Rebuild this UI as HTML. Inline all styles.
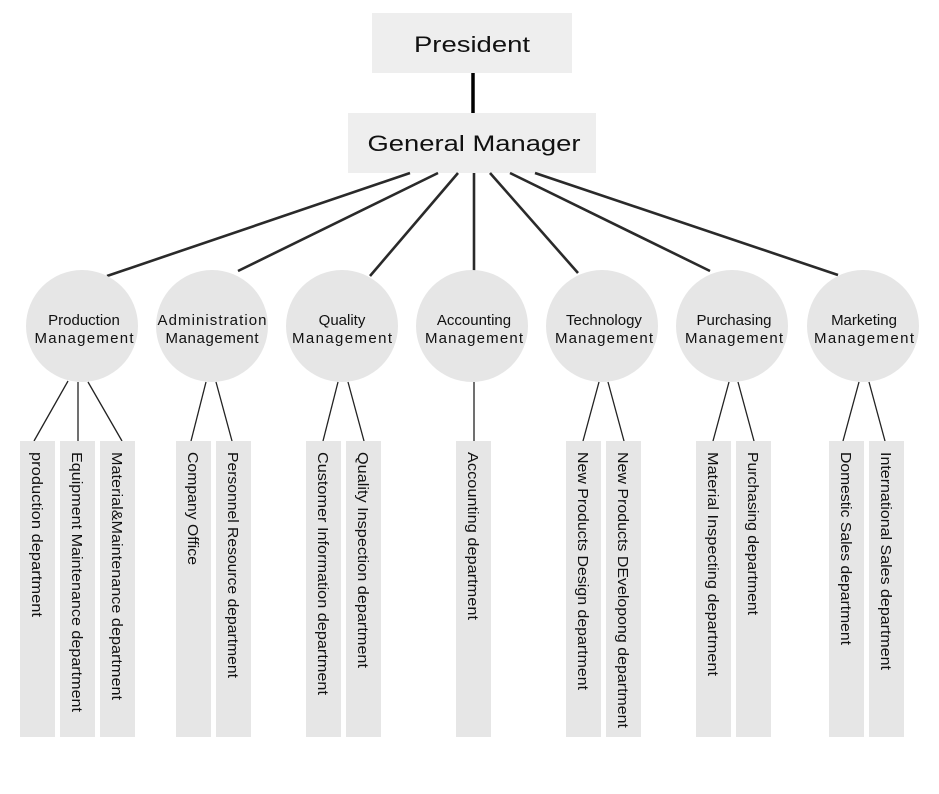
<!DOCTYPE html>
<html><head><meta charset="utf-8"><style>
html,body{margin:0;padding:0;background:#fff;}
svg{display:block;}
text{font-family:"Liberation Sans","DejaVu Sans",sans-serif;fill:#111;}
</style></head><body>
<svg width="939" height="794" viewBox="0 0 939 794" xmlns="http://www.w3.org/2000/svg">
<rect x="372" y="13" width="200" height="60" fill="#eeeeee"/>
<text x="472" y="52" font-size="22" text-anchor="middle" textLength="116" lengthAdjust="spacingAndGlyphs">President</text>
<line x1="473" y1="73" x2="473" y2="113" stroke="#000" stroke-width="3.5"/>
<rect x="348" y="113" width="248" height="60" fill="#eeeeee"/>
<text x="474" y="151" font-size="22" text-anchor="middle" textLength="213" lengthAdjust="spacingAndGlyphs">General Manager</text>
<g stroke="#2a2a2a" stroke-width="2.6">
<line x1="410" y1="173" x2="107" y2="276"/>
<line x1="438" y1="173" x2="238" y2="271"/>
<line x1="458" y1="173" x2="370" y2="276"/>
<line x1="474" y1="173" x2="474" y2="271"/>
<line x1="490" y1="173" x2="578" y2="273"/>
<line x1="510" y1="173" x2="710" y2="271"/>
<line x1="535" y1="173" x2="838" y2="275"/>
</g>
<g fill="#e6e6e6">
<circle cx="82" cy="326" r="56"/><circle cx="212" cy="326" r="56"/><circle cx="342" cy="326" r="56"/>
<circle cx="472" cy="326" r="56"/><circle cx="602" cy="326" r="56"/><circle cx="732" cy="326" r="56"/><circle cx="863" cy="326" r="56"/>
</g>
<g font-size="15" text-anchor="middle" lengthAdjust="spacingAndGlyphs">
<text x="84" y="325">Production</text><text x="84" y="343" textLength="99">Management</text>
<text x="212" y="325" textLength="109">Administration</text><text x="212" y="343" textLength="93">Management</text>
<text x="342" y="325">Quality</text><text x="342" y="343" textLength="100">Management</text>
<text x="474" y="325">Accounting</text><text x="474" y="343" textLength="98">Management</text>
<text x="604" y="325">Technology</text><text x="604" y="343" textLength="98">Management</text>
<text x="734" y="325">Purchasing</text><text x="734" y="343" textLength="98">Management</text>
<text x="864" y="325">Marketing</text><text x="864" y="343" textLength="100">Management</text>
</g>
<g stroke="#222" stroke-width="1.3">
<line x1="68" y1="381" x2="34" y2="441"/><line x1="78" y1="382" x2="78" y2="441"/><line x1="88" y1="382" x2="122" y2="441"/>
<line x1="206" y1="382" x2="191" y2="441"/><line x1="216" y1="382" x2="232" y2="441"/>
<line x1="338" y1="382" x2="323" y2="441"/><line x1="348" y1="382" x2="364" y2="441"/>
<line x1="474" y1="382" x2="474" y2="441"/>
<line x1="599" y1="382" x2="583" y2="441"/><line x1="608" y1="382" x2="624" y2="441"/>
<line x1="729" y1="382" x2="713" y2="441"/><line x1="738" y1="382" x2="754" y2="441"/>
<line x1="859" y1="382" x2="843" y2="441"/><line x1="869" y1="382" x2="885" y2="441"/>
</g>
<g fill="#e6e6e6">
<rect x="20" y="441" width="35" height="296"/><rect x="60" y="441" width="35" height="296"/><rect x="100" y="441" width="35" height="296"/>
<rect x="176" y="441" width="35" height="296"/><rect x="216" y="441" width="35" height="296"/>
<rect x="306" y="441" width="35" height="296"/><rect x="346" y="441" width="35" height="296"/>
<rect x="456" y="441" width="35" height="296"/>
<rect x="566" y="441" width="35" height="296"/><rect x="606" y="441" width="35" height="296"/>
<rect x="696" y="441" width="35" height="296"/><rect x="736" y="441" width="35" height="296"/>
<rect x="829" y="441" width="35" height="296"/><rect x="869" y="441" width="35" height="296"/>
</g>
<g font-size="15">
<text transform="translate(32,452) rotate(90)" textLength="165" lengthAdjust="spacingAndGlyphs">production department</text>
<text transform="translate(72,452) rotate(90)" textLength="260" lengthAdjust="spacingAndGlyphs">Equipment Maintenance department</text>
<text transform="translate(112,452) rotate(90)" textLength="248" lengthAdjust="spacingAndGlyphs">Material&amp;Maintenance department</text>
<text transform="translate(188,452) rotate(90)" textLength="113" lengthAdjust="spacingAndGlyphs">Company Office</text>
<text transform="translate(228,452) rotate(90)" textLength="226" lengthAdjust="spacingAndGlyphs">Personnel Resource department</text>
<text transform="translate(318,452) rotate(90)" textLength="243" lengthAdjust="spacingAndGlyphs">Customer Information department</text>
<text transform="translate(358,452) rotate(90)" textLength="216" lengthAdjust="spacingAndGlyphs">Quality Inspection department</text>
<text transform="translate(468,452) rotate(90)" textLength="168" lengthAdjust="spacingAndGlyphs">Accounting department</text>
<text transform="translate(578,452) rotate(90)" textLength="238" lengthAdjust="spacingAndGlyphs">New Products Design department</text>
<text transform="translate(618,452) rotate(90)" textLength="276" lengthAdjust="spacingAndGlyphs">New Products DEvelopong department</text>
<text transform="translate(708,452) rotate(90)" textLength="224" lengthAdjust="spacingAndGlyphs">Material Inspecting department</text>
<text transform="translate(748,452) rotate(90)" textLength="163" lengthAdjust="spacingAndGlyphs">Purchasing department</text>
<text transform="translate(841,452) rotate(90)" textLength="193" lengthAdjust="spacingAndGlyphs">Domestic Sales department</text>
<text transform="translate(881,452) rotate(90)" textLength="218" lengthAdjust="spacingAndGlyphs">International Sales department</text>
</g>
</svg>
</body></html>
